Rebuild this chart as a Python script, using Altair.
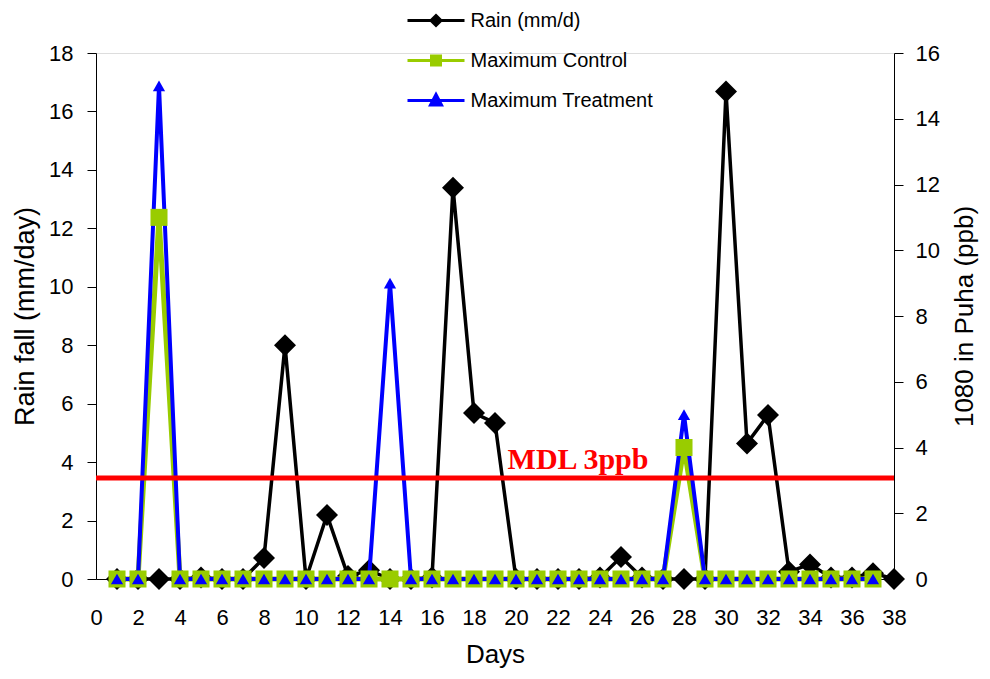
import altair as alt
import pandas as pd

# ---------------- data ----------------
rain_days = list(range(1, 39))
rain_mm = [0, 0, 0, 0, 0.05, 0, 0, 0.72, 8.0, 0,
           2.19, 0.1, 0.3, 0, 0, 0.05, 13.39, 5.68, 5.34, 0,
           0, 0, 0, 0.05, 0.75, 0.05, 0, 0, 0, 16.68,
           4.64, 5.61, 0.25, 0.5, 0.05, 0.05, 0.2, 0]

ppb_days = list(range(1, 38))
control_ppb = [0, 0, 11, 0, 0, 0, 0, 0, 0, 0,
               0, 0, 0, 0, 0, 0, 0, 0, 0, 0,
               0, 0, 0, 0, 0, 0, 0, 4, 0, 0,
               0, 0, 0, 0, 0, 0, 0]
treatment_ppb = [0, 0, 15, 0, 0, 0, 0, 0, 0, 0,
                 0, 0, 0, 9, 0, 0, 0, 0, 0, 0,
                 0, 0, 0, 0, 0, 0, 0, 5, 0, 0,
                 0, 0, 0, 0, 0, 0, 0]

series_names = ["Rain (mm/d)", "Maximum Control", "Maximum Treatment"]
series_colors = ["#000000", "#99CC00", "#0000FF"]

mdl_level = [3.07]
mdl_label = ["MDL 3ppb"]
mdl_label_day = [19.6]

x_ticks = list(range(0, 39, 2))
left_ticks = list(range(0, 19, 2))
right_ticks = list(range(0, 17, 2))

# ---------------- tables ----------------
rain_df = pd.DataFrame({"day": rain_days, "value": rain_mm})
control_df = pd.DataFrame({"day": ppb_days, "value": control_ppb})
treat_df = pd.DataFrame({"day": ppb_days, "value": treatment_ppb})
mdl_df = pd.DataFrame({"level": mdl_level, "label": mdl_label, "day": mdl_label_day})
legend_df = pd.DataFrame({"day": [0, 0, 0], "value": [0, 0, 0], "series": series_names})

FONT = "Liberation Sans"

x_enc = alt.X(
    "day:Q",
    scale=alt.Scale(domain=[0, 38], nice=False, zero=False),
    axis=alt.Axis(values=x_ticks, title="Days", ticks=False, labelPadding=28,
                  labelFont=FONT, labelFontSize=22, labelColor="black",
                  domainColor="black", domainWidth=1, grid=False,
                  titleFont=FONT, titleFontSize=26, titleFontWeight="normal",
                  titleColor="black", titlePadding=13, labelFlush=False),
)

left_axis = alt.Axis(values=left_ticks, title="Rain fall (mm/day)", orient="left",
                     tickSize=9, tickColor="black", labelPadding=14,
                     labelFont=FONT, labelFontSize=22, labelColor="black",
                     domainColor="black", grid=False,
                     titleFont=FONT, titleFontSize=27, titleFontWeight="normal",
                     titleColor="black", titlePadding=9)
y_left = alt.Y("value:Q", scale=alt.Scale(domain=[0, 18], nice=False), axis=left_axis)

right_axis = alt.Axis(values=right_ticks, title="1080 in Puha (ppb)", orient="right",
                      tickSize=9, tickColor="black", labelPadding=12,
                      labelFont=FONT, labelFontSize=22, labelColor="black",
                      domainColor="black", grid=False,
                      titleFont=FONT, titleFontSize=26, titleFontWeight="normal",
                      titleColor="black", titlePadding=12, titleAngle=270,
                      titleBaseline="top")
y_right = alt.Y("value:Q", scale=alt.Scale(domain=[0, 16], nice=False), axis=right_axis)
y_right_level = alt.Y("level:Q", scale=alt.Scale(domain=[0, 16], nice=False), axis=right_axis)

# ---------------- left (rain) layer ----------------
rain_line = alt.Chart(rain_df).mark_line(color="black", strokeWidth=3.5).encode(x=x_enc, y=y_left)
rain_pts = alt.Chart(rain_df).mark_point(shape="diamond", filled=True, size=484,
                                         color="black", opacity=1).encode(x=x_enc, y=y_left)
left = alt.layer(rain_line, rain_pts)

# ---------------- right (ppb) layer ----------------
ctrl_line = alt.Chart(control_df).mark_line(color="#99CC00", strokeWidth=5).encode(x=x_enc, y=y_right)
treat_line = alt.Chart(treat_df).mark_line(color="#0000FF", strokeWidth=4).encode(x=x_enc, y=y_right)
ctrl_pts = alt.Chart(control_df).mark_point(shape="square", filled=True, size=290,
                                            color="#99CC00", opacity=1).encode(x=x_enc, y=y_right)
treat_pts = alt.Chart(treat_df).mark_point(shape="triangle-up", filled=True, size=150,
                                           color="#0000FF", opacity=1).encode(x=x_enc, y=y_right)
mdl_rule = alt.Chart(mdl_df).mark_rule(color="#FF0000", strokeWidth=5).encode(y=y_right_level)
mdl_text = alt.Chart(mdl_df).mark_text(
    color="#FF0000", font="Liberation Serif", fontSize=30, fontWeight="bold",
    align="left", baseline="alphabetic", dy=-9
).encode(x=x_enc, y=y_right_level, text="label:N")

# legend symbols: a line with the series marker (units of r = 10px)
legend_shapes = [
    "M-2.85,0L2.85,0M0,-0.5L0.5,0L0,0.5L-0.5,0Z",
    "M-2.85,0L2.85,0M-0.45,-0.45L0.45,-0.45L0.45,0.45L-0.45,0.45Z",
    "M-2.85,0L2.85,0M0,-0.6L0.55,0.45L-0.55,0.45Z",
]
leg = alt.Legend(title=None, orient="none", legendX=328.5, legendY=-44, padding=0,
                 rowPadding=17, symbolSize=400, symbolStrokeWidth=3, symbolOpacity=1,
                 labelFont=FONT, labelFontSize=20, labelColor="black", labelOffset=23,
                 labelLimit=400)
legend_layer = alt.Chart(legend_df).mark_point(filled=True, opacity=1).encode(
    x=x_enc, y=y_right,
    fill=alt.Fill("series:N", scale=alt.Scale(domain=series_names, range=series_colors), legend=leg),
    stroke=alt.Stroke("series:N", scale=alt.Scale(domain=series_names, range=series_colors), legend=leg),
    shape=alt.Shape("series:N", scale=alt.Scale(domain=series_names, range=legend_shapes), legend=leg),
).transform_filter("datum.day > 100")

right = alt.layer(ctrl_line, treat_line, ctrl_pts, treat_pts, mdl_rule, mdl_text, legend_layer)

chart = alt.layer(left, right).resolve_scale(y="independent").properties(
    width=798, height=526,
    autosize=alt.AutoSizeParams(type="none"),
    padding={"left": 88, "top": 45, "right": 88, "bottom": 90},
).configure_view(stroke=None).configure(background="white")

chart.save("out.html", embed_options={"renderer": "svg", "actions": False})
